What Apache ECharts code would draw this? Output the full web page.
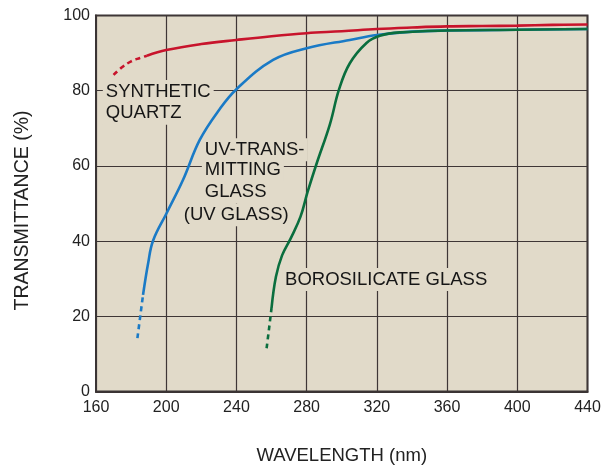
<!DOCTYPE html>
<html>
<head>
<meta charset="utf-8">
<script src="https://cdn.jsdelivr.net/npm/echarts@6/dist/echarts.min.js"></script>
<style>
html,body{margin:0;padding:0;background:#fff;}
#chart{width:605px;height:465px;}
</style>
</head>
<body>
<div id="chart"></div>
<script>
// Tick labels
const xTicks = [160, 200, 240, 280, 320, 360, 400, 440];
const yTicks = [0, 20, 40, 60, 80, 100];

// Synthetic quartz
const quartzDashX = [170, 175, 180, 185, 189];
const quartzDashY = [84.2, 86.3, 87.8, 88.7, 89.3];
const quartzX = [189, 200, 220, 240, 260, 280, 300, 320, 340, 360, 380, 400, 420, 440];
const quartzY = [89.3, 90.8, 92.4, 93.5, 94.5, 95.3, 95.8, 96.4, 96.8, 97.1, 97.2, 97.3, 97.5, 97.6];

// UV-transmitting glass
const uvDashX = [183.6, 185.2, 186.8];
const uvDashY = [14.2, 20, 25.7];
const uvX = [186.8, 189.7, 192.5, 200.2, 209.6, 219.1, 230, 240, 260.9, 280, 304.6, 320, 340, 360, 400, 440];
const uvY = [25.7, 34.1, 40.1, 47.4, 56.3, 66.9, 74.8, 80.4, 88.2, 91.3, 93.5, 94.8, 95.7, 96, 96.2, 96.4];

// Borosilicate glass
const boroDashX = [257.2, 258.6, 260];
const boroDashY = [11.5, 16.8, 22.2];
const boroX = [260, 262.5, 266, 271, 276.5, 280.5, 285.6, 293.2, 298.5, 304.6, 314.1, 321.7, 333.1, 360, 400, 440];
const boroY = [22.2, 30.5, 36.2, 40.8, 46.5, 53, 60.5, 71, 80.4, 87.3, 92.7, 94.6, 95.5, 96, 96.2, 96.4];

// Annotations
const labelTexts = ['SYNTHETIC', 'QUARTZ', 'UV-TRANS-', 'MITTING', 'GLASS', '(UV GLASS)', 'BOROSILICATE GLASS'];
const labelX = [165.6, 165.6, 222, 222, 222, 210, 267.7];
const labelY = [79.8, 74, 64.3, 59, 53.2, 47, 29.8];

const zip = (xs, ys) => xs.map((x, i) => [x, ys[i]]);

const RED = '#c8142c', BLUE = '#1a7ac6', GREEN = '#0a6e3e';
const BG = '#e1dac9';
const GRID = '#3e3636';
const FONT = 'Liberation Sans, Arial, Helvetica, sans-serif';

function line(data, color, dashed) {
  return {
    type: 'line', data: data, showSymbol: false, symbol: 'none',
    smooth: 0.4, z: 3,
    lineStyle: { color: color, width: 2.6, type: dashed ? [5, 4] : 'solid', cap: 'butt' },
    silent: true, animation: false
  };
}

const chart = echarts.init(document.getElementById('chart'), null, { renderer: 'canvas' });
chart.setOption({
  animation: false,
  backgroundColor: '#ffffff',
  grid: {
    left: 96, right: 17.5, top: 15.5, bottom: 73.5,
    containLabel: false, outerBoundsMode: 'none',
    show: true, backgroundColor: BG, borderColor: '#3a3434', borderWidth: 2
  },
  xAxis: {
    type: 'value', min: 160, max: 440, interval: 40,
    name: 'WAVELENGTH (nm)', nameLocation: 'middle', nameGap: 55,
    nameTextStyle: { fontFamily: FONT, fontSize: 18.5, color: '#222' },
    axisLine: { show: true, lineStyle: { color: '#3a3434', width: 2 } },
    axisTick: { show: false },
    axisLabel: { fontFamily: FONT, fontSize: 16, color: '#222', margin: 8,
      formatter: v => xTicks.includes(v) ? String(v) : '' },
    splitLine: { show: true, lineStyle: { color: GRID, width: 1.2 } }
  },
  yAxis: {
    type: 'value', min: 0, max: 100, interval: 20,
    name: 'TRANSMITTANCE (%)', nameLocation: 'middle', nameGap: 63, nameRotate: 90,
    nameTextStyle: { fontFamily: FONT, fontSize: 19.5, color: '#222', padding: [0, 14, 0, 0] },
    axisLine: { show: true, lineStyle: { color: '#3a3434', width: 2 } },
    axisTick: { show: false },
    axisLabel: { fontFamily: FONT, fontSize: 16, color: '#222', margin: 6,
      formatter: v => yTicks.includes(v) ? String(v) : '' },
    splitLine: { show: true, lineStyle: { color: GRID, width: 1.2 } }
  },
  series: [
    line(zip(quartzDashX, quartzDashY), RED, true),
    line(zip(quartzX, quartzY), RED, false),
    line(zip(uvDashX, uvDashY), BLUE, true),
    line(zip(uvX, uvY), BLUE, false),
    line(zip(boroDashX, boroDashY), GREEN, true),
    line(zip(boroX, boroY), GREEN, false)
  ]
});

const graphics = labelTexts.map((t, i) => {
  const p = chart.convertToPixel({ gridIndex: 0 }, [labelX[i], labelY[i]]);
  return {
    type: 'text', x: p[0] - 3, y: p[1], z: 1, silent: true,
    style: {
      text: t, fill: '#161616', font: '18.5px ' + FONT,
      verticalAlign: 'middle', align: 'left',
      backgroundColor: BG, padding: [2, 3, 2, 3]
    }
  };
});
chart.setOption({ graphic: graphics });
</script>
</body>
</html>
